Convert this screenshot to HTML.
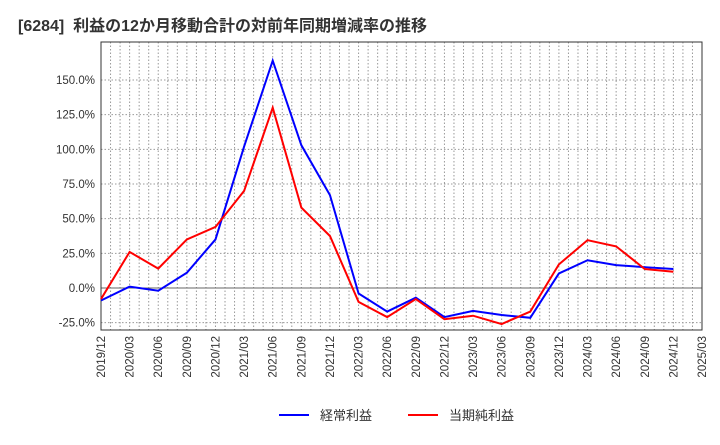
<!DOCTYPE html>
<html><head><meta charset="utf-8"><style>
body{margin:0;background:#fff;font-family:"Liberation Sans","Noto Sans CJK JP",sans-serif;}
</style></head><body>
<svg id="c" width="720" height="440" xmlns="http://www.w3.org/2000/svg">
<text x="18" y="31" font-size="16" font-weight="bold" fill="#333" xml:space="preserve" style="white-space:pre" font-family="Liberation Sans, Noto Sans CJK JP, sans-serif">[6284]  利益の12か月移動合計の対前年同期増減率の推移</text>
<g id="grid"></g><g id="axes"></g><g id="series"></g>
<g>
<line x1="279" y1="415" x2="309" y2="415" stroke="#0000ff" stroke-width="2"/>
<text x="320" y="420" font-size="13" fill="#333" font-family="Liberation Sans, Noto Sans CJK JP, sans-serif">経常利益</text>
<line x1="408" y1="415" x2="438" y2="415" stroke="#ff0000" stroke-width="2"/>
<text x="449" y="420" font-size="13" fill="#333" font-family="Liberation Sans, Noto Sans CJK JP, sans-serif">当期純利益</text>
</g>
</svg>
<script>
const xLabels=["2019/12","2020/03","2020/06","2020/09","2020/12","2021/03","2021/06","2021/09","2021/12","2022/03","2022/06","2022/09","2022/12","2023/03","2023/06","2023/09","2023/12","2024/03","2024/06","2024/09","2024/12","2025/03"];
const yTicks=[-25,0,25,50,75,100,125,150];
const keijo=[-9,1,-2,11,35,102,164,103,67,-4,-17,-7,-21,-16.5,-19.5,-21.5,10.5,20,16.5,15,13.7];
const junri=[-8,26,14,35,44,70,130,58,37.5,-10,-21,-8,-22.5,-20,-26,-17,17,34.5,30,13.7,11.7];
const L=101,R=702,T=42,B=330,yMin=-30.3,yMax=177.4;
const NS="http://www.w3.org/2000/svg";
const xs=i=>L+i*(R-L)/(xLabels.length-1);
const ys=v=>B-(v-yMin)/(yMax-yMin)*(B-T);
function mk(t,a,p){const e=document.createElementNS(NS,t);for(const k in a)e.setAttribute(k,a[k]);p.appendChild(e);return e;}
const grid=document.getElementById('grid'),axes=document.getElementById('axes'),ser=document.getElementById('series');
for(let m=1;m<(xLabels.length-1)*3;m++){const x=L+m*(R-L)/((xLabels.length-1)*3);
const g=mk('line',{x1:x,x2:x,y1:T,y2:B,stroke:'#999','stroke-dasharray':'1.5,2','stroke-width':1},grid);

}
yTicks.forEach(v=>{const y=ys(v);
const g=mk('line',{x1:L,x2:R,y1:y,y2:y,stroke:v===0?'#666':'#999','stroke-dasharray':v===0?'none':'1.5,2','stroke-width':1},grid);


const t=mk('text',{x:L-6,y:y+4,'text-anchor':'end','font-size':11.5,fill:'#333'},axes);
t.textContent=v.toFixed(1)+'%';

});
xLabels.forEach((s,i)=>{const x=xs(i);
const t=mk('text',{x:x+4,y:B+6,'text-anchor':'end','font-size':11.5,fill:'#333',transform:`rotate(-90 ${x+4} ${B+6})`},axes);
t.textContent=s;

});
const fr=mk('rect',{x:L,y:T,width:R-L,height:B-T,fill:'none',stroke:'#333','stroke-width':1},axes);


[[keijo,'#0000ff','series-keijo-rieki'],[junri,'#ff0000','series-touki-junrieki']].forEach(([d,c,n])=>{
const p=mk('polyline',{points:d.map((v,i)=>xs(i)+','+ys(v)).join(' '),fill:'none',stroke:c,'stroke-width':2},ser);

});
</script>
</body></html>
